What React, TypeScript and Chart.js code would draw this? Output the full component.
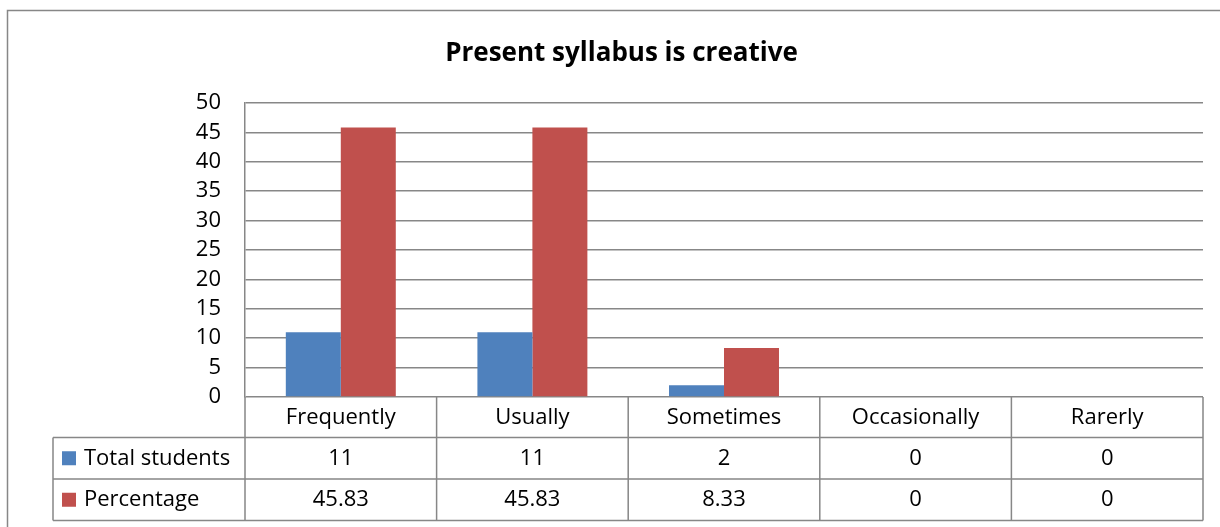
import React, { useEffect, useRef } from "react";
import { Chart, registerables } from "chart.js";

Chart.register(...registerables);

const categories = ["Frequently", "Usually", "Sometimes", "Occasionally", "Rarerly"];
const totalStudents = [11, 11, 2, 0, 0];
const percentage = [45.83, 45.83, 8.33, 0, 0];
const totalLabels = ["11", "11", "2", "0", "0"];
const percentLabels = ["45.83", "45.83", "8.33", "0", "0"];
const seriesNames = ["Total students", "Percentage"];
const title = "Present syllabus is creative";

const BLUE = "#4F81BD";
const RED = "#C0504D";
const GRID = "#878787";
const FONT = "'Open Sans', 'Noto Sans', sans-serif";

const tablePlugin = {
  id: "dataTable",
  beforeDraw(chart: any) {
    const ctx = chart.ctx;
    ctx.save();
    ctx.strokeStyle = GRID;
    ctx.lineWidth = 1.5;
    ctx.strokeRect(7.5, 10.5, 1260, 600);
    ctx.restore();
  },
  afterDraw(chart: any) {
    const ctx = chart.ctx;
    const area = chart.chartArea;
    const n = categories.length;
    const colW = (area.right - area.left) / n;
    const rowH = 41.5;
    const top = area.bottom;
    const labelLeft = 53;
    ctx.save();
    ctx.strokeStyle = GRID;
    ctx.lineWidth = 1.5;
    const y1 = top + rowH - 1;
    const y2 = y1 + rowH;
    const y3 = y2 + rowH;
    ctx.beginPath();
    ctx.moveTo(labelLeft, y1);
    ctx.lineTo(area.right, y1);
    ctx.moveTo(labelLeft, y2);
    ctx.lineTo(area.right, y2);
    ctx.moveTo(labelLeft, y3);
    ctx.lineTo(area.right, y3);
    for (let i = 0; i <= n; i++) {
      const x = area.left + i * colW;
      ctx.moveTo(x, top);
      ctx.lineTo(x, y3);
    }
    ctx.moveTo(labelLeft, y1);
    ctx.lineTo(labelLeft, y3);
    ctx.stroke();

    ctx.fillStyle = "#000";
    ctx.font = "22px " + FONT;
    ctx.textAlign = "center";
    ctx.textBaseline = "middle";
    const xs = chart.scales.x;
    for (let i = 0; i < n; i++) {
      const cx = xs.getPixelForValue(i);
      ctx.fillText(categories[i], cx, (top + y1) / 2);
      ctx.fillText(totalLabels[i], cx, (y1 + y2) / 2);
      ctx.fillText(percentLabels[i], cx, (y2 + y3) / 2);
    }
    const colors = [BLUE, RED];
    const rows = [(y1 + y2) / 2, (y2 + y3) / 2];
    ctx.textAlign = "left";
    for (let r = 0; r < 2; r++) {
      ctx.fillStyle = colors[r];
      ctx.fillRect(62, rows[r] - 7, 14, 14);
      ctx.fillStyle = "#000";
      ctx.fillText(seriesNames[r], 84, rows[r]);
    }
    ctx.restore();
  },
};

export default function App() {
  const ref = useRef<HTMLCanvasElement>(null);
  useEffect(() => {
    if (!ref.current) return;
    const chart = new Chart(ref.current, {
      type: "bar",
      data: {
        labels: categories,
        datasets: [
          { label: seriesNames[0], data: totalStudents, backgroundColor: BLUE },
          { label: seriesNames[1], data: percentage, backgroundColor: RED },
        ],
      },
      options: {
        responsive: false,
        animation: false,
        layout: { padding: { left: 40, right: 17, top: 0, bottom: 130 } },
        datasets: { bar: { barPercentage: 1, categoryPercentage: 0.574 } },
        plugins: {
          legend: { display: false },
          tooltip: { enabled: false },
          title: {
            display: true,
            text: title,
            color: "#000",
            font: { family: FONT, size: 26, weight: "bold", lineHeight: 1.2 },
            padding: { top: 38.4, bottom: 33.4 },
          },
        },
        scales: {
          x: { display: false },
          y: {
            min: 0,
            max: 50,
            afterFit: (s: any) => {
              s.width = 205;
            },
            ticks: {
              stepSize: 5,
              color: "#000",
              padding: 24,
              font: { family: FONT, size: 22 },
            },
            grid: { color: GRID, lineWidth: 1.5, drawTicks: false },
            border: { display: true, color: GRID, width: 1.5 },
          },
        },
      },
      plugins: [tablePlugin],
    });
    return () => chart.destroy();
  }, []);
  return (
    <canvas
      ref={ref}
      width={1220}
      height={527}
      style={{ position: "absolute", left: 0, top: 0, width: 1220, height: 527 }}
    />
  );
}
